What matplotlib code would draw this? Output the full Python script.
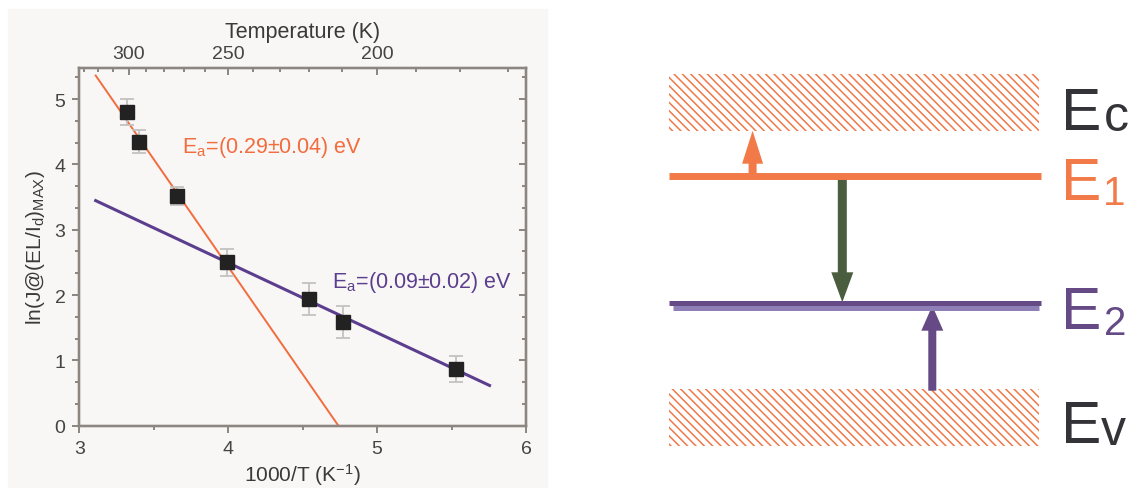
import numpy as np
import matplotlib
matplotlib.use('Agg')
import matplotlib.pyplot as plt
from matplotlib.patches import Rectangle, FancyArrow
from matplotlib.ticker import AutoMinorLocator

# measured points (1000/T, ln signal) with error bars
inv_t = [3.32, 3.40, 3.655, 3.99, 4.54, 4.77, 5.53]
ln_j = [4.80, 4.35, 3.52, 2.50, 1.94, 1.585, 0.87]
ln_err = [0.20, 0.17, 0.14, 0.21, 0.24, 0.24, 0.20]

# linear fits (end points)
fit1_x = [3.11, 4.74]
fit1_y = [5.36, 0.0]
fit2_x = [3.11, 5.755]
fit2_y = [3.445, 0.616]

temp_major = [300, 250, 200]
temp_minor = [330, 320, 310, 290, 280, 270, 260, 240, 230, 220, 210, 190, 180, 170]

level_sub = ['c', '1', '2', 'v']
level_color = ['#333338', '#f27a48', '#654a85', '#333338']

ORANGE = '#f26c3e'
PURPLE = '#5c3e8e'
GREY_BG = '#f8f7f5'
SPINE = '#8c8580'
TXT = '#444444'

plt.rcParams['font.family'] = ['Liberation Sans', 'DejaVu Sans']
plt.rcParams['mathtext.fontset'] = 'custom'
plt.rcParams['mathtext.rm'] = 'Liberation Sans'
plt.rcParams['mathtext.it'] = 'Liberation Sans:italic'
plt.rcParams['hatch.linewidth'] = 1.1

W, H = 1135, 489
fig = plt.figure(figsize=(W / 100, H / 100), dpi=100)
fig.patch.set_facecolor('white')
fig.patches.append(Rectangle((8.3 / W, 0), (546.7 - 8.3) / W, (H - 10) / H,
                             transform=fig.transFigure, color=GREY_BG, zorder=-1))

# ---------- left: Arrhenius plot ----------
ax = fig.add_axes([79.3 / W, 62.3 / H, (526 - 79.3) / W, (426.7 - 69) / H])
ax.set_facecolor(GREY_BG)
ax.plot(fit1_x, fit1_y, color=ORANGE, lw=1.4, zorder=3)
ax.plot(fit2_x, fit2_y, color=PURPLE, lw=2.2, zorder=3)
ax.errorbar(inv_t, ln_j, yerr=ln_err, fmt='s', color='#222222', ms=9.5,
            ecolor='#c4c2c0', elinewidth=1.3, capsize=5, capthick=1.3, zorder=4)

ax.text(3.687, 4.19, r'E$_\mathrm{a}$=(0.29±0.04) eV', color=ORANGE,
        fontsize=15.5, va='baseline')
ax.text(4.70, 2.12, r'E$_\mathrm{a}$=(0.09±0.02) eV', color=PURPLE,
        fontsize=15.5, va='baseline')

ax.set_xlim(3, 6)
ax.set_ylim(0, 5.475)
ax.set_xticks([3, 4, 5, 6])
ax.set_yticks([0, 1, 2, 3, 4, 5])
ax.xaxis.set_minor_locator(AutoMinorLocator(2))
ax.yaxis.set_minor_locator(AutoMinorLocator(3))
ax.tick_params(which='both', direction='out', colors=SPINE, labelcolor=TXT,
               labelsize=14, width=1.4)
ax.tick_params(which='major', length=5, pad=5)
ax.tick_params(which='minor', length=3)
ax.set_xlabel('1000/T (K$^{-1}$)', fontsize=15, color='#3a3a3a', labelpad=3)
ax.set_ylabel(r'ln(J@(EL/I$_\mathrm{d}$)$_\mathrm{MAX}$)', fontsize=15,
              color='#3a3a3a', labelpad=5)
for s in ax.spines.values():
    s.set_color(SPINE)
    s.set_linewidth(1.6)

ax_r = ax.twinx()
ax_r.set_ylim(ax.get_ylim())
ax_r.set_yticks([0, 1, 2, 3, 4, 5])
ax_r.yaxis.set_minor_locator(AutoMinorLocator(3))
ax_r.tick_params(which='both', direction='in', colors=SPINE, labelright=False, width=1.4)
ax_r.tick_params(which='major', length=5)
ax_r.tick_params(which='minor', length=3)

ax_t = ax.twiny()
ax_t.set_xlim(ax.get_xlim())
ax_t.set_xticks([1000 / t for t in temp_major])
ax_t.set_xticklabels([str(t) for t in temp_major])
ax_t.set_xticks([1000 / t for t in temp_minor], minor=True)
ax_t.tick_params(which='both', direction='in', colors=SPINE, labelcolor=TXT,
                 labelsize=14, width=1.4)
ax_t.tick_params(which='major', length=5, pad=4)
ax_t.tick_params(which='minor', length=3)
ax_t.set_xlabel('Temperature (K)', fontsize=15.5, color='#3a3a3a', labelpad=6)
for a in (ax_r, ax_t):
    for s in a.spines.values():
        s.set_color(SPINE)
        s.set_linewidth(1.6)

# ---------- right: level diagram (pixel coordinates) ----------
ad = fig.add_axes([0, 0, 1, 1])
ad.set_xlim(0, W)
ad.set_ylim(H, 0)
ad.axis('off')
ad.patch.set_alpha(0)

x0, x1 = 669, 1039
for top, bot in [(75, 131.7), (390, 446.7)]:
    ad.add_patch(Rectangle((x0, top), x1 - x0, bot - top, facecolor='white',
                           edgecolor='#f07848', hatch='\\\\\\\\', linewidth=0))

ad.plot([x0, 1041], [177, 177], color='#f27a48', lw=5, solid_capstyle='butt')
ad.plot([673, 1039], [308.5, 308.5], color='#8e80b6', lw=3.6, solid_capstyle='butt')
ad.plot([x0, 1041], [303.5, 303.5], color='#654a85', lw=3.6, solid_capstyle='butt')

ad.add_patch(FancyArrow(752.6, 177, 0, -45.3, width=8, head_width=21,
                        head_length=33, length_includes_head=True,
                        color='#f27a48', lw=0))
ad.add_patch(FancyArrow(842.3, 177, 0, 126.3, width=9, head_width=22,
                        head_length=30, length_includes_head=True,
                        color='#4a5e3f', lw=0))
ad.add_patch(FancyArrow(932.3, 391.7, 0, -85, width=8, head_width=22,
                        head_length=25, length_includes_head=True,
                        color='#654a85', lw=0))

e_base = [130, 200, 329.3, 443]
sub_base = [131, 205, 335, 445]
sub_size = [36, 29, 29, 36]
sub_x = [1104, 1103, 1104, 1101]
for i, sub in enumerate(level_sub):
    ad.text(1061, e_base[i], 'E', fontsize=43.5, color=level_color[i], va='baseline')
    ad.text(sub_x[i], sub_base[i], sub, fontsize=sub_size[i], color=level_color[i],
            va='baseline')

fig.savefig('out.png', dpi=100)
